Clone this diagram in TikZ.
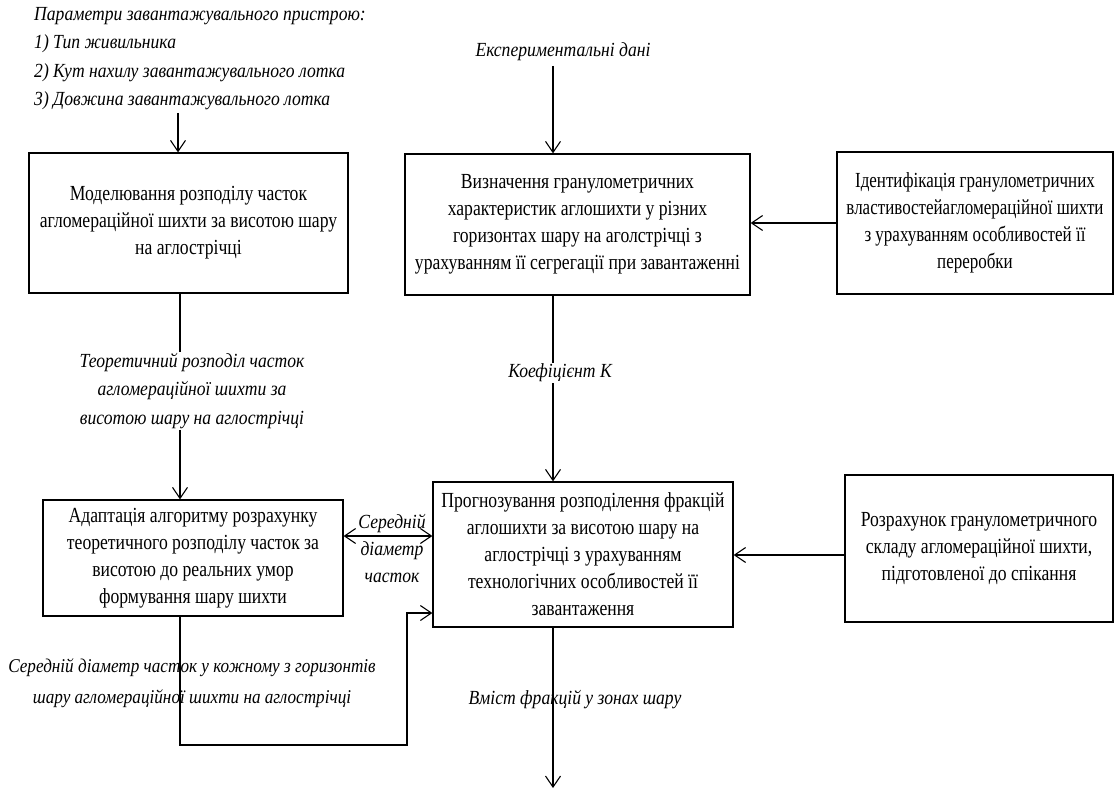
\documentclass[tikz,border=0pt]{standalone}
\usepackage{fontspec}
\setmainfont{Liberation Serif}
\newfontfamily\boxfont[FakeStretch=0.82]{Liberation Serif}
\newfontfamily\boxfontn[FakeStretch=0.79]{Liberation Serif}
\newfontfamily\labfont[FakeStretch=0.88]{Liberation Serif}
\usetikzlibrary{arrows.meta}
\tikzset{
  blk/.style={draw, line width=1.3pt, align=center, inner sep=2pt,
    font=\boxfont\fontsize{21.5}{27}\selectfont},
  lab/.style={align=center, inner sep=1pt,
    font=\labfont\itshape\fontsize{20}{28.5}\selectfont},
  con/.style={line width=1.1pt},
  tip/.tip={Straight Barb[length=11pt,width=15pt,line width=1.1pt]},
  arr/.style={con, -tip},
  darr/.style={con, tip-tip},
}
\begin{document}
\begin{tikzpicture}[x=1pt,y=-1pt]
\useasboundingbox (0,0) rectangle (1115,789);
% helper coordinates
\coordinate (x180) at (180,0);
\coordinate (x553) at (553,0);
\coordinate (y536) at (0,536);
\coordinate (y555) at (0,555);
\coordinate (y613) at (0,613);

% boxes
\node[blk, minimum width=319pt, minimum height=140pt] (b1) at (188.5,223)
  {Моделювання розподілу часток\\агломераційної шихти за висотою шару\\на аглострічці};
\node[blk, minimum width=345pt, minimum height=141pt] (b2) at (577.5,224.5)
  {Визначення гранулометричних\\характеристик аглошихти у різних\\горизонтах шару на аголстрічці з\\урахуванням її сегрегації при завантаженні};
\node[blk, minimum width=276pt, minimum height=142pt,
      font=\boxfontn\fontsize{21.5}{27}\selectfont] (b3) at (975,223)
  {Ідентифікація гранулометричних\\властивостейагломераційної шихти\\з урахуванням особливостей її\\переробки};
\node[blk, minimum width=300pt, minimum height=116pt] (b4) at (193,558)
  {Адаптація алгоритму розрахунку\\теоретичного розподілу часток за\\висотою до реальних умор\\формування шару шихти};
\node[blk, minimum width=300pt, minimum height=145pt] (b5) at (583,554.5)
  {Прогнозування розподілення фракцій\\аглошихти за висотою шару на\\аглострічці з урахуванням\\технологічних особливостей її\\завантаження};
\node[blk, minimum width=268pt, minimum height=147pt] (b6) at (979,548.5)
  {Розрахунок гранулометричного\\складу агломераційної шихти,\\підготовленої до спікання};

% labels
\node[lab, align=left, anchor=north west] (par) at (33,6)
  {Параметри завантажувального пристрою:\\1) Тип живильника\\2) Кут нахилу завантажувального лотка\\3) Довжина завантажувального лотка};
\node[lab] (exp) at (563,52) {Експериментальні дані};
\node[lab] (teo) at (192,391)
  {Теоретичний розподіл часток\\агломераційної шихти за\\висотою шару на аглострічці};
\node[lab] (kof) at (560,373) {Коефіцієнт К};
\node[lab, font=\labfont\itshape\fontsize{20}{27}\selectfont] (sdc) at (392,548) {Середній\\діаметр\\часток};
\node[lab, font=\labfont\itshape\fontsize{19.5}{31}\selectfont] (sdh) at (192,683)
  {Середній діаметр часток у кожному з горизонтів\\шару агломераційної шихти на аглострічці};
\node[lab] (vm) at (575,700) {Вміст фракцій у зонах шару};

\coordinate (pe) at (178,113);
\coordinate (ee) at (553,66);
\coordinate (fb1) at (180,745);
\coordinate (fb2) at (407,745);
\coordinate (fb3) at (407,613);
\coordinate (out) at (553,788);

% connectors
\draw[arr] (pe) -- (pe |- b1.north);
\draw[arr] (ee) -- (ee |- b2.north);
\draw[arr] (b3.west) -- (b3.west -| b2.east);
\draw[con] (x180 |- b1.south) -- (x180 |- teo.north);
\draw[arr] (x180 |- teo.south) -- (x180 |- b4.north);
\draw[con] (x553 |- b2.south) -- (x553 |- kof.north);
\draw[arr] (x553 |- kof.south) -- (x553 |- b5.north);
\draw[darr] (b4.east |- y536) -- (b5.west |- y536);
\draw[arr] (b6.west |- y555) -- (b5.east |- y555);
\draw[arr] (x180 |- b4.south) -- (fb1) -- (fb2) -- (fb3) -- (b5.west |- y613);
\draw[arr] (x553 |- b5.south) -- (out);
\end{tikzpicture}
\end{document}
